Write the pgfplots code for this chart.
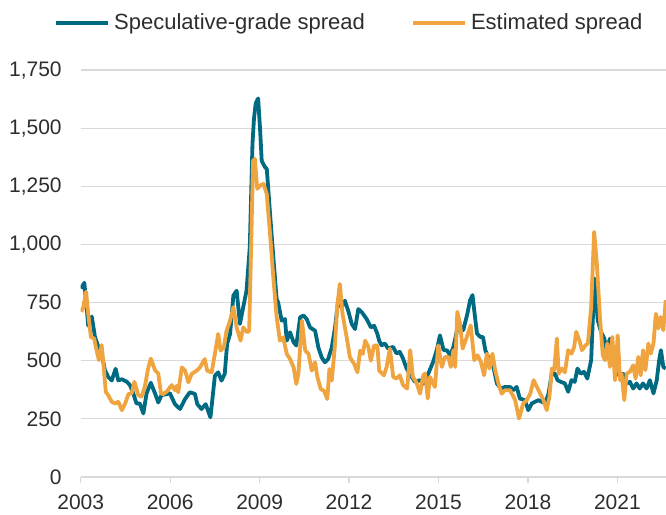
\documentclass[border=0pt]{standalone}
\usepackage{fontspec}
\setmainfont{Liberation Sans}
\usepackage{pgfplots}
\pgfplotsset{compat=1.18}
\definecolor{specblue}{RGB}{0,106,130}
\definecolor{estorange}{RGB}{240,164,64}
\definecolor{gridgray}{RGB}{217,217,217}
\definecolor{txt}{RGB}{45,45,45}
\begin{document}
\begin{tikzpicture}[x=1pt,y=1pt]
\path[use as bounding box] (-40.35,-18.65) rectangle (292.5,238.35);
\begin{axis}[
  at={(0,0)}, anchor=south west,
  scale only axis, width=292.5pt, height=203.35pt,
  xmin=2003, xmax=2022.63, ymin=0, ymax=1750,
  separate axis lines,
  axis x line*=bottom, axis y line*=left,
  x axis line style={gridgray, line width=0.7pt, -},
  y axis line style={draw=none},
  xtick={2003,2006,2009,2012,2015,2018,2021},
  xticklabels={2003,2006,2009,2012,2015,2018,2021},
  ytick={0,250,...,1750},
  ymajorgrids, grid style={gridgray, line width=0.6pt},
  xtick style={gridgray, line width=0.6pt},
  ytick style={draw=none},
  tick align=outside, major tick length=3pt,
  /pgf/number format/assume math mode=true,
  yticklabel style={/pgf/number format/1000 sep={,}, xshift=-3pt},
  xticklabel style={inner ysep=0.8pt, yshift=-5.2pt},
  tick label style={font=\fontsize{10.5}{12}\selectfont, text=txt},
  legend style={at={(0,1)}, anchor=west, xshift=-13.5pt, yshift=23.5pt,
    draw=none, fill=none, inner sep=0pt, font=\fontsize{11}{13}\selectfont, text=txt,
    /tikz/every even column/.append style={column sep=21pt}},
  legend columns=2, legend cell align=left,
  legend image code/.code={\draw[#1, line width=2pt] (0pt,0pt) -- (26pt,0pt);},
]
\addplot[specblue, line width=1.9pt, line join=round] coordinates {
(2003.01,810) (2003.12,835) (2003.20,730) (2003.25,650) (2003.37,690) (2003.48,600)
(2003.59,560) (2003.70,530) (2003.81,460) (2003.92,430) (2004.04,415) (2004.17,465)
(2004.26,415) (2004.38,420) (2004.54,410) (2004.65,395) (2004.76,360) (2004.87,316)
(2004.98,316) (2005.10,273) (2005.21,360) (2005.35,405) (2005.49,360) (2005.60,320)
(2005.71,352) (2005.88,356) (2005.99,360) (2006.16,313) (2006.33,292) (2006.50,335)
(2006.66,364) (2006.83,357) (2006.91,313) (2007.05,292) (2007.19,313) (2007.35,256)
(2007.50,435) (2007.61,450) (2007.72,414) (2007.83,443) (2007.91,572) (2008.01,615)
(2008.12,780) (2008.23,801) (2008.34,658) (2008.45,730) (2008.56,801) (2008.67,988)
(2008.76,1432) (2008.81,1540) (2008.87,1607) (2008.95,1628) (2009.01,1507)
(2009.07,1360) (2009.18,1332) (2009.24,1325) (2009.35,1131) (2009.46,945) (2009.57,765)
(2009.62,751) (2009.74,672) (2009.85,679) (2009.91,586) (2010.02,622) (2010.14,579)
(2010.23,565) (2010.36,687) (2010.47,694) (2010.58,679) (2010.69,643) (2010.86,629)
(2010.97,557) (2011.08,514) (2011.19,493) (2011.30,507) (2011.42,557) (2011.53,643)
(2011.64,765) (2011.75,730) (2011.86,758) (2011.97,715) (2012.09,658) (2012.20,636)
(2012.31,722) (2012.43,708) (2012.59,679) (2012.73,643) (2012.84,650) (2012.95,615)
(2013.01,586) (2013.09,566) (2013.20,574) (2013.31,552) (2013.48,559) (2013.59,531)
(2013.70,538) (2013.81,509) (2013.93,466) (2014.10,430) (2014.21,409) (2014.38,416)
(2014.49,401) (2014.66,445) (2014.82,495) (2014.94,545) (2015.05,609) (2015.17,545)
(2015.28,545) (2015.39,523) (2015.50,559) (2015.67,660) (2015.83,631) (2015.97,703)
(2016.06,760) (2016.14,782) (2016.21,703) (2016.29,617) (2016.40,602) (2016.49,602)
(2016.57,545) (2016.71,502) (2016.84,473) (2016.96,401) (2017.09,380) (2017.23,387)
(2017.40,387) (2017.51,373) (2017.62,387) (2017.73,337) (2017.90,330) (2018.01,287)
(2018.13,316) (2018.24,323) (2018.35,330) (2018.47,323) (2018.58,316) (2018.69,359)
(2018.80,444) (2018.91,444) (2018.99,416) (2019.10,409) (2019.24,402) (2019.35,366)
(2019.46,416) (2019.57,409) (2019.66,466) (2019.77,444) (2019.88,452) (2019.99,423)
(2020.12,502) (2020.23,853) (2020.34,674) (2020.45,624) (2020.56,595) (2020.64,545)
(2020.75,595) (2020.83,502) (2020.92,473) (2021.03,437) (2021.20,444) (2021.31,402)
(2021.42,409) (2021.53,380) (2021.64,402) (2021.75,380) (2021.86,402) (2021.98,380)
(2022.09,416) (2022.21,359) (2022.32,416) (2022.40,502) (2022.46,545) (2022.54,473)
(2022.62,466)
};
\addlegendentry{Speculative-grade spread}
\addplot[estorange, line width=1.9pt, line join=round] coordinates {
(2003.01,710) (2003.09,731) (2003.18,796) (2003.25,703) (2003.34,602) (2003.45,595)
(2003.53,545) (2003.61,502) (2003.70,567) (2003.75,502) (2003.84,366) (2003.92,352)
(2004.04,323) (2004.15,316) (2004.26,323) (2004.38,287) (2004.49,316) (2004.60,356)
(2004.71,360) (2004.80,409) (2004.93,352) (2005.04,345) (2005.15,388) (2005.26,466)
(2005.35,509) (2005.49,459) (2005.60,445) (2005.69,360) (2005.76,356) (2005.88,366)
(2006.05,395) (2006.16,373) (2006.22,392) (2006.27,364) (2006.39,471) (2006.50,457)
(2006.61,407) (2006.72,443) (2006.89,457) (2007.00,471) (2007.16,507) (2007.24,457)
(2007.39,450) (2007.50,529) (2007.61,615) (2007.69,543) (2007.80,557) (2007.89,629)
(2008.01,672) (2008.12,730) (2008.23,643) (2008.36,586) (2008.45,643) (2008.58,622)
(2008.65,629) (2008.73,1074) (2008.78,1360) (2008.84,1368) (2008.92,1239) (2009.01,1253)
(2009.13,1260) (2009.24,1217) (2009.35,1045) (2009.46,858) (2009.57,688) (2009.68,586)
(2009.79,600) (2009.91,529) (2010.02,507) (2010.14,471) (2010.23,400) (2010.30,443)
(2010.42,672) (2010.53,543) (2010.64,529) (2010.75,457) (2010.86,493) (2010.94,428)
(2011.05,378) (2011.16,370) (2011.27,335) (2011.34,464) (2011.42,414) (2011.53,572)
(2011.60,730) (2011.69,830) (2011.78,701) (2011.92,600) (2012.03,514) (2012.17,486)
(2012.28,450) (2012.37,543) (2012.46,529) (2012.54,586) (2012.65,557) (2012.73,500)
(2012.84,565) (2012.95,565) (2013.01,457) (2013.17,437) (2013.26,473) (2013.37,552)
(2013.48,430) (2013.59,423) (2013.70,437) (2013.81,395) (2013.95,380) (2014.05,545)
(2014.14,430) (2014.25,409) (2014.38,358) (2014.49,437) (2014.55,445) (2014.64,337)
(2014.71,430) (2014.88,387) (2014.99,566) (2015.11,473) (2015.22,516) (2015.33,516)
(2015.41,473) (2015.50,545) (2015.56,473) (2015.63,710) (2015.72,660) (2015.81,552)
(2015.95,602) (2016.08,652) (2016.20,502) (2016.31,523) (2016.42,495) (2016.53,437)
(2016.62,530) (2016.71,466) (2016.81,530) (2016.90,459) (2017.01,401) (2017.12,358)
(2017.23,373) (2017.40,373) (2017.57,330) (2017.70,251) (2017.84,316) (2017.96,330)
(2018.08,359) (2018.19,416) (2018.30,387) (2018.41,359) (2018.52,330) (2018.63,287)
(2018.72,344) (2018.80,466) (2018.88,459) (2018.97,595) (2019.03,444) (2019.13,466)
(2019.24,450) (2019.35,545) (2019.46,530) (2019.55,559) (2019.62,624) (2019.74,581)
(2019.81,545) (2019.93,566) (2020.01,574) (2020.12,731) (2020.22,1054) (2020.31,918)
(2020.42,674) (2020.51,523) (2020.59,502) (2020.66,574) (2020.75,473) (2020.83,602)
(2020.92,416) (2021.01,609) (2021.09,416) (2021.14,444) (2021.23,330) (2021.31,444)
(2021.42,452) (2021.53,480) (2021.61,423) (2021.70,516) (2021.78,437) (2021.86,545)
(2021.94,459) (2022.04,574) (2022.12,530) (2022.21,574) (2022.29,702) (2022.37,638)
(2022.45,688) (2022.54,631) (2022.62,760)
};
\addlegendentry{Estimated spread}
\end{axis}
\end{tikzpicture}
\end{document}
